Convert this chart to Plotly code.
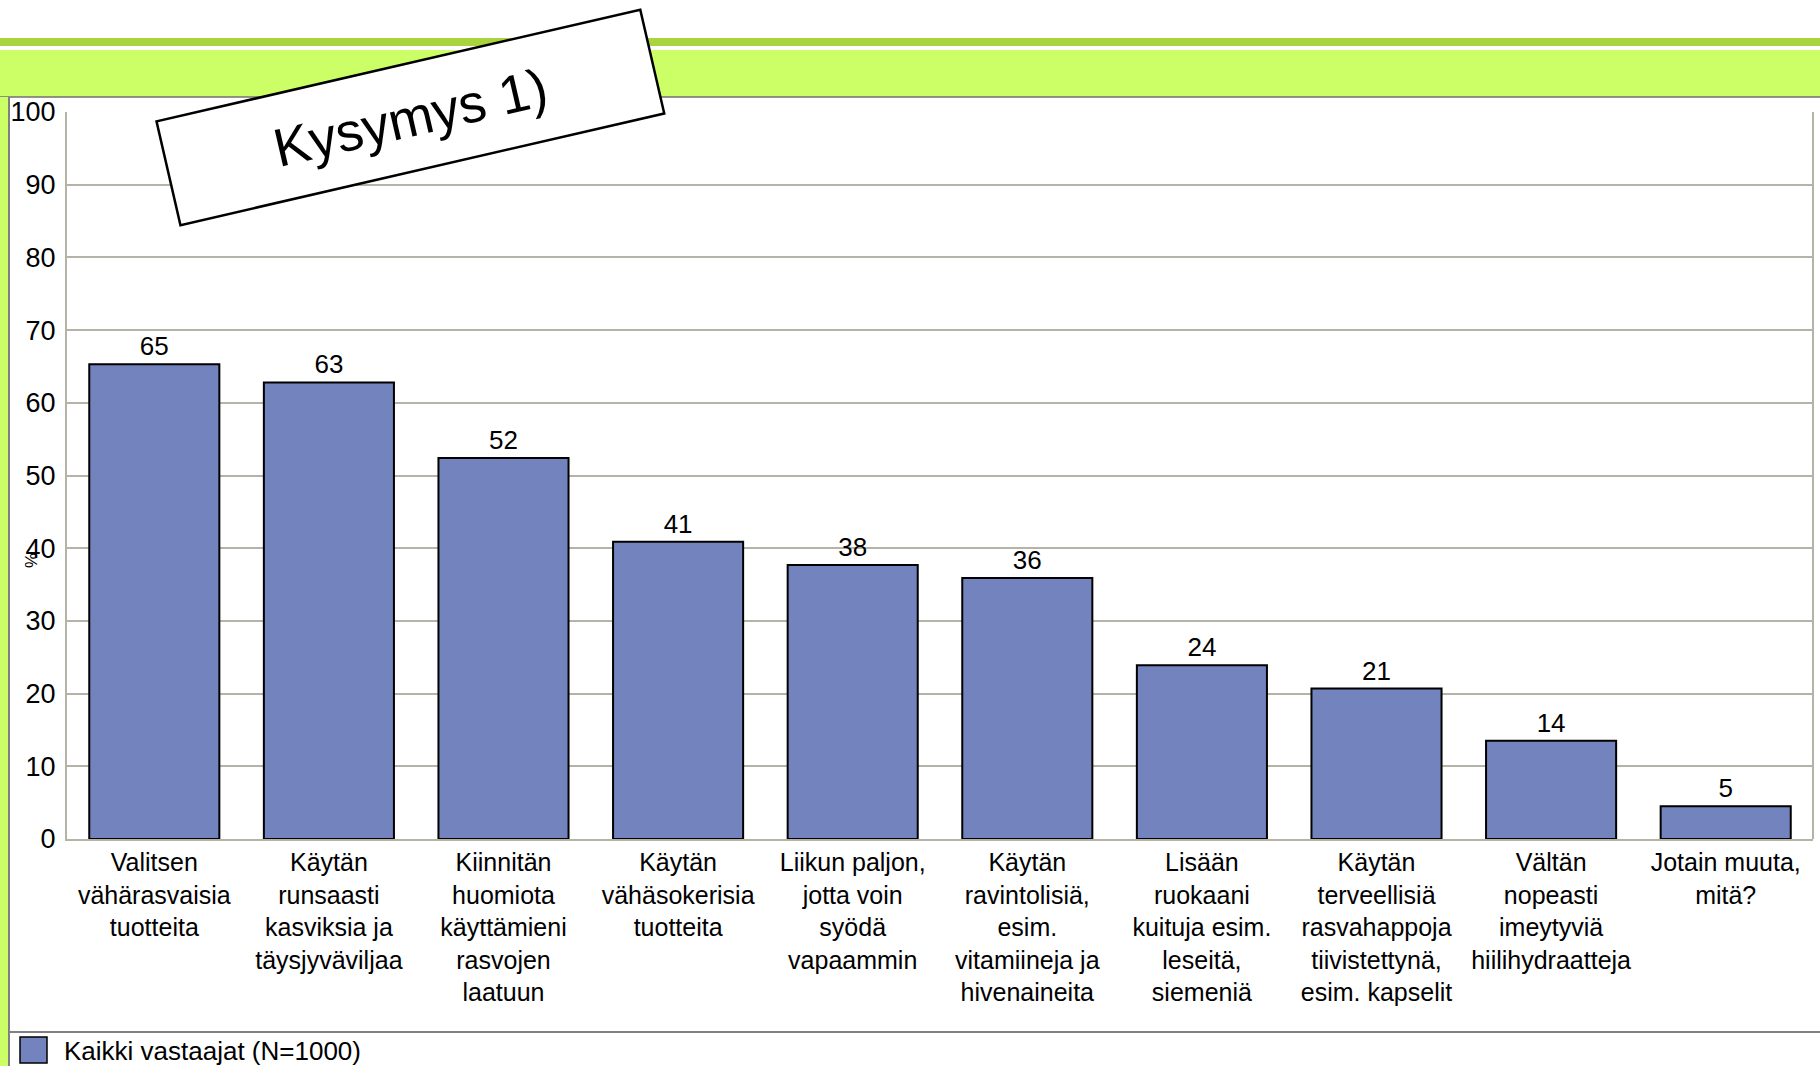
import plotly.graph_objects as go

# Kysymys 1 - share of respondents (%)
categories = [
    "Valitsen<br>vähärasvaisia<br>tuotteita",
    "Käytän<br>runsaasti<br>kasviksia ja<br>täysjyväviljaa",
    "Kiinnitän<br>huomiota<br>käyttämieni<br>rasvojen<br>laatuun",
    "Käytän<br>vähäsokerisia<br>tuotteita",
    "Liikun paljon,<br>jotta voin<br>syödä<br>vapaammin",
    "Käytän<br>ravintolisiä,<br>esim.<br>vitamiineja ja<br>hivenaineita",
    "Lisään<br>ruokaani<br>kuituja esim.<br>leseitä,<br>siemeniä",
    "Käytän<br>terveellisiä<br>rasvahappoja<br>tiivistettynä,<br>esim. kapselit",
    "Vältän<br>nopeasti<br>imeytyviä<br>hiilihydraatteja",
    "Jotain muuta,<br>mitä?",
]
values = [65.3, 62.8, 52.4, 40.9, 37.7, 35.9, 23.9, 20.7, 13.5, 4.5]
series_name = "Kaikki vastaajat (N=1000)"
title_text = "Kysymys 1)"

W, H = 1820, 1066
L, R, T, B = 67, 7, 112, 227
FONT = "Liberation Sans, Arial, sans-serif"
BAR = "#7283bd"
GRID = "#b5b2a6"
GREEN = "#ccff66"


def px(x):
    return (x - L) / (W - L - R)


def py(y):
    return (H - B - y) / (H - T - B)


fig = go.Figure(go.Bar(
    x=categories, y=values, name=series_name,
    marker=dict(color=BAR, line=dict(color="black", width=2)),
    texttemplate="%{y:.0f}", textposition="outside",
    textfont=dict(size=26, color="black", family=FONT),
    cliponaxis=False, showlegend=False,
))

shapes = [
    # header bars
    dict(type="rect", xref="paper", yref="paper", x0=px(0), x1=px(W), y0=py(38), y1=py(46),
         fillcolor="#a9d43c", line_width=0, layer="below"),
    dict(type="rect", xref="paper", yref="paper", x0=px(0), x1=px(W), y0=py(50), y1=py(97),
         fillcolor=GREEN, line_width=0, layer="below"),
    dict(type="line", xref="paper", yref="paper", x0=px(0), x1=px(W), y0=py(97), y1=py(97),
         line=dict(color="#707070", width=1.5), layer="below"),
    # left strip
    dict(type="rect", xref="paper", yref="paper", x0=px(0), x1=px(8), y0=py(97), y1=py(H),
         fillcolor=GREEN, line_width=0, layer="below"),
    dict(type="line", xref="paper", yref="paper", x0=px(9), x1=px(9), y0=py(97), y1=py(H),
         line=dict(color="#808080", width=2), layer="below"),
    # legend separator
    dict(type="line", xref="paper", yref="paper", x0=px(10), x1=px(W), y0=py(1032), y1=py(1032),
         line=dict(color="#808080", width=2)),
    # legend swatch
    dict(type="rect", xref="paper", yref="paper", x0=px(20), x1=px(47), y0=py(1037), y1=py(1063),
         fillcolor=BAR, line=dict(color="black", width=1.5)),
    # plot frame right side
    dict(type="line", xref="paper", yref="paper", x0=1, x1=1, y0=0, y1=1,
         line=dict(color=GRID, width=2)),
]

annotations = [
    dict(text=title_text, xref="paper", yref="paper", x=px(410), y=py(118),
         xanchor="center", yanchor="middle", showarrow=False, textangle=-13,
         width=490, height=100, borderpad=2, bordercolor="black", borderwidth=2.5,
         bgcolor="white", font=dict(size=54, color="black", family=FONT)),
    dict(text=series_name, xref="paper", yref="paper", x=px(62), y=py(1051),
         xanchor="left", yanchor="middle", showarrow=False,
         font=dict(size=26, color="black", family=FONT)),
    dict(text="%", xref="paper", yref="paper", x=px(31), y=py(561),
         xanchor="center", yanchor="middle", showarrow=False, textangle=-90,
         font=dict(size=17, color="black", family=FONT)),
]

fig.update_layout(
    width=W, height=H,
    margin=dict(l=L, r=R, t=T, b=B, autoexpand=False),
    paper_bgcolor="white", plot_bgcolor="white",
    bargap=0.255,
    font=dict(family=FONT, size=25, color="black"),
    shapes=shapes, annotations=annotations,
)
fig.update_xaxes(
    showline=True, linecolor=GRID, linewidth=2, ticks="", automargin=False,
    tickfont=dict(size=25, family=FONT, color="black"),
)
fig.update_yaxes(
    range=[0, 100], dtick=10, showgrid=True, gridcolor=GRID, gridwidth=2,
    showline=True, linecolor=GRID, linewidth=2, ticks="", ticklabelstandoff=4,
    tickfont=dict(size=27, family=FONT, color="black"), automargin=False,
    zeroline=False, mirror=False,
)

# drop the default page margin so the figure sits at the window's corner
fig.write_html("out.html", config={"displayModeBar": False},
               post_script="document.body.style.margin='0';")
